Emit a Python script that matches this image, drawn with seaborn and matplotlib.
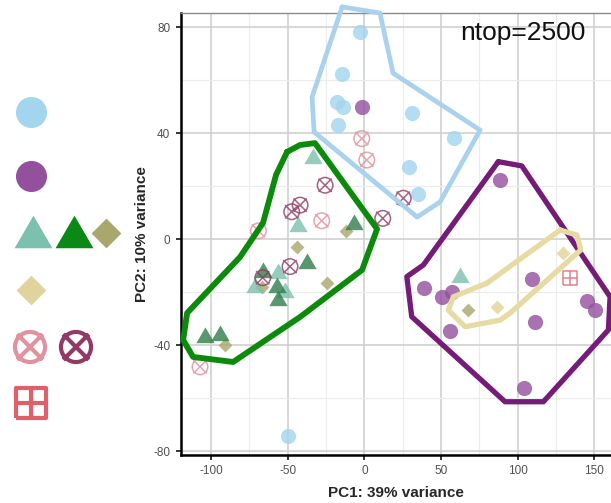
import numpy as np
import pandas as pd
import matplotlib
matplotlib.use("Agg")
import matplotlib.pyplot as plt
import seaborn as sns
from matplotlib.path import Path
from matplotlib.markers import MarkerStyle
from matplotlib.ticker import MultipleLocator

# ---------------- data ----------------
sky_x = [-2.8, -14.7, -17.6, -14.1, -17.0, 30.9, 58.7, 29.4, 35.2, -50.0]
sky_y = [78.1, 62.4, 51.9, 50.0, 43.1, 47.5, 38.3, 27.2, 17.0, -74.1]

purple_x = [-1.7, 88.5, 39.1, 50.5, 57.0, 55.9, 109.2, 111.4, 104.2, 145.1, 150.5]
purple_y = [50.0, 22.4, -18.5, -21.7, -19.8, -34.6, -15.1, -31.1, -56.2, -23.3, -26.7]

teal_x = [-33.3, -43.0, -71.3, -56.1, -51.7, 62.4]
teal_y = [30.6, 5.0, -17.9, -12.8, -19.8, -14.1]

green_x = [-6.7, -37.6, -66.3, -57.1, -56.1, -103.9, -94.1]
green_y = [5.7, -9.1, -12.2, -17.9, -22.9, -36.7, -36.1]

olive_x = [-12.1, -43.7, -24.5, -90.9, 67.4, -66.9]
olive_y = [3.2, -3.0, -16.6, -39.9, -26.7, -17.9]

khaki_x = [86.4, 129.4]
khaki_y = [-25.7, -5.3]

pink_x = [-1.7, 1.6, -27.8, -69.1, -107.2]
pink_y = [38.0, 29.9, 7.0, 3.2, -48.1]

maroon_x = [-25.6, -41.9, -47.4, 25.4, 12.0, -48.5, -66.3]
maroon_y = [20.4, 12.9, 10.4, 15.5, 7.9, -10.3, -14.5]

red_x = [134.2]
red_y = [-14.7]

# hull outlines
hull_sky_x = [-14.5, 10.2, 18.7, 75.5, 49.4, 34.4, -32.8, -34.1]
hull_sky_y = [87.7, 85.4, 62.7, 41.2, 14.1, 8.4, 40.5, 53.7]
hull_green_x = [-50.4, -41.9, -32.2, 8.3, -1.5, -41.9, -85.6, -111.7, -118.2, -115.6, -81.1, -66.1, -57.6]
hull_green_y = [33.0, 35.6, 36.3, 3.9, -11.6, -29.3, -46.3, -44.4, -38.0, -27.8, -6.7, 6.2, 24.3]
hull_purple_x = [87.4, 102.7, 160.3, 159.2, 116.8, 91.8, 30.9, 27.7, 38.5]
hull_purple_y = [29.3, 27.7, -21.7, -34.2, -61.3, -61.3, -29.2, -14.1, -9.7]
hull_khaki_x = [127.7, 138.6, 141.2, 95.0, 88.5, 65.7, 54.8, 58.1, 79.8]
hull_khaki_y = [3.5, 1.6, -4.0, -27.9, -30.5, -33.0, -26.7, -21.7, -16.6]

x_ticks = [-100, -50, 0, 50, 100, 150]
y_ticks = [-80, -40, 0, 40, 80]

# ---------------- markers ----------------
circ = Path.unit_circle()
d = 0.85
cross = Path([(-d, -d), (d, d), (-d, d), (d, -d)],
             [Path.MOVETO, Path.LINETO, Path.MOVETO, Path.LINETO])
circ_x = MarkerStyle(Path.make_compound_path(circ, cross))
sq = Path([(-1, -1), (1, -1), (1, 1), (-1, 1), (-1, -1),
           (0, -1), (0, 1), (-1, 0), (1, 0)],
          [Path.MOVETO, Path.LINETO, Path.LINETO, Path.LINETO, Path.LINETO,
           Path.MOVETO, Path.LINETO, Path.MOVETO, Path.LINETO])
sq_plus = MarkerStyle(sq)
tri = MarkerStyle(Path([(-1, -0.62), (1, -0.62), (0, 1.1), (-1, -0.62)],
                       [Path.MOVETO, Path.LINETO, Path.LINETO, Path.CLOSEPOLY]))

C_SKY, C_PUR, C_TEAL, C_GRN = "#a3d5ef", "#93509c", "#7cc0ae", "#2f7d4a"
C_OLV, C_KHA, C_PNK, C_MAR, C_RED = "#a8a66a", "#e0d49a", "#e0909c", "#8e3a64", "#e0606a"

groups = [
    # x, y, marker, color, size, line-art
    (sky_x, sky_y, "o", C_SKY, 120, False),
    (purple_x, purple_y, "o", C_PUR, 120, False),
    (olive_x, olive_y, "D", C_OLV, 50, False),
    (khaki_x, khaki_y, "D", C_KHA, 50, False),
    (teal_x, teal_y, tri, C_TEAL, 210, False),
    (green_x, green_y, tri, C_GRN, 210, False),
    (pink_x, pink_y, circ_x, C_PNK, 125, True),
    (maroon_x, maroon_y, circ_x, C_MAR, 125, True),
    (red_x, red_y, sq_plus, C_RED, 95, True),
]

sns.set_theme(style="white")
plt.rcParams["font.family"] = ["Liberation Sans", "DejaVu Sans"]
plt.rcParams["axes.unicode_minus"] = False

W, H = 611, 503
fig = plt.figure(figsize=(W / 100, H / 100), dpi=100)
ax = fig.add_axes([180.7 / W, 48 / H, 1 - 180.7 / W, (455 - 13) / H])

for gx, gy, mk, col, s, lineart in groups:
    df = pd.DataFrame({"x": gx, "y": gy})
    sns.scatterplot(data=df, x="x", y="y", marker=mk, s=s, color=col,
                    alpha=0.8, linewidth=0 if not lineart else 1.1, ax=ax,
                    zorder=3, legend=False)
    if lineart:
        coll = ax.collections[-1]
        coll.set_facecolor("none")
        coll.set_edgecolor(col)
        coll.set_linewidth(1.1)

hulls = [
    (hull_sky_x, hull_sky_y, "#a9d2ee", 3.4),
    (hull_green_x, hull_green_y, "#0b8a0b", 4.2),
    (hull_purple_x, hull_purple_y, "#741c78", 3.8),
    (hull_khaki_x, hull_khaki_y, "#e6dba2", 3.8),
]
for hx, hy, col, lw in hulls:
    px = list(hx) + [hx[0]]
    py = list(hy) + [hy[0]]
    sns.lineplot(x=px, y=py, sort=False, estimator=None, color=col, lw=lw,
                 ax=ax, zorder=4, solid_joinstyle="round", solid_capstyle="round")
    ax.lines[-1].set_clip_on(False)

ax.set_xlim(-119.8, 160.9)
ax.set_ylim(-81.4, 85.4)
ax.set_xticks(x_ticks)
ax.set_yticks(y_ticks)
ax.xaxis.set_minor_locator(MultipleLocator(25))
ax.yaxis.set_minor_locator(MultipleLocator(20))
ax.grid(which="major", color="#cdcdcd", lw=1.1, zorder=0)
ax.grid(which="minor", color="#ececec", lw=0.8, zorder=0)
ax.set_axisbelow(True)
ax.tick_params(which="major", length=3.5, width=1.1, color="black",
               labelcolor="#505050", labelsize=8.5, pad=4, bottom=True, left=True)
ax.tick_params(which="minor", length=0)
for sp in ["left", "bottom"]:
    ax.spines[sp].set_color("black")
    ax.spines[sp].set_linewidth(1.8)
ax.spines["top"].set_color("#8a8a8a")
ax.spines["top"].set_linewidth(1.0)
ax.spines["right"].set_visible(False)

ax.set_xlabel("PC1: 39% variance", fontsize=11, fontweight="bold", labelpad=6)
ax.set_ylabel("PC2: 10% variance", fontsize=11, fontweight="bold", labelpad=3)

fig.text(460 / W, 1 - 40 / H, "ntop=2500", fontsize=19, color="#111111",
         ha="left", va="baseline")

# ---------------- left marker key (no text) ----------------
lax = fig.add_axes([0, 0, 180 / W, 1])
lax.set_xlim(0, 180)
lax.set_ylim(H, 0)
lax.axis("off")
key = [
    # col, row, marker, color, size, line-art
    (31, 112, "o", C_SKY, 500, False),
    (31, 176, "o", C_PUR, 500, False),
    (33, 236, tri, "#7cc0ae", 900, False),
    (74, 236, tri, "#0a8a14", 900, False),
    (106, 233, "D", "#a9a76c", 230, False),
    (31, 290, "D", "#e0d49c", 230, False),
    (30, 347, circ_x, "#e0929e", 470, True),
    (76, 347, circ_x, "#913a66", 470, True),
    (31, 403, sq_plus, "#e0606a", 480, True),
]
for kx, ky, mk, col, s, lineart in key:
    sns.scatterplot(x=[kx], y=[ky], marker=mk, s=s, color=col, linewidth=0,
                    ax=lax, legend=False, clip_on=False)
    if lineart:
        coll = lax.collections[-1]
        coll.set_facecolor("none")
        coll.set_edgecolor(col)
        coll.set_linewidth(3.0)

fig.savefig("out.png", dpi=100)
